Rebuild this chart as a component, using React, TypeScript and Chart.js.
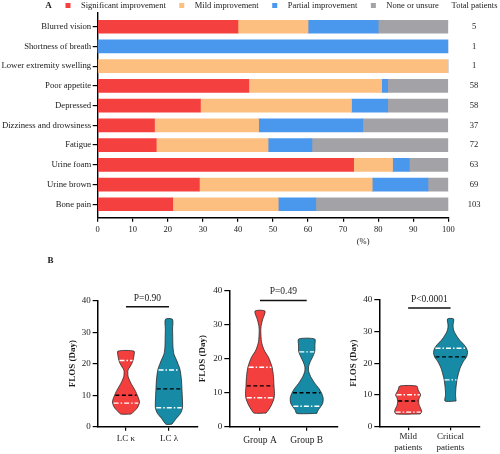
import React, { useEffect, useRef } from 'react';
import { Chart, registerables } from 'chart.js';

Chart.register(...registerables);

const FONT = "'Liberation Serif', 'Times New Roman', Times, serif";
Chart.defaults.font.family = FONT;
Chart.defaults.color = '#1a1a1a';

// ---------------- Panel A data ----------------
const symptoms = [
  'Blurred vision',
  'Shortness of breath',
  'Lower extremity swelling',
  'Poor appetite',
  'Depressed',
  'Dizziness and drowsiness',
  'Fatigue',
  'Urine foam',
  'Urine brown',
  'Bone pain',
];
const seriesNames = ['Significant improvement', 'Mild improvement', 'Partial improvement', 'None or unsure'];
const significantPct = [40, 0, 0, 43.1, 29.3, 16.2, 16.7, 73.0, 29.0, 21.4];
const mildPct = [20, 0, 100, 37.9, 43.1, 29.7, 31.9, 11.1, 49.3, 30.1];
const partialPct = [20, 100, 0, 1.7, 10.3, 29.7, 12.5, 4.8, 15.9, 10.7];
const nonePct = [20, 0, 0, 17.2, 17.2, 24.3, 38.9, 11.1, 5.8, 37.9];
const totalPatients = [5, 1, 1, 58, 58, 37, 72, 63, 69, 103];
const totalHeader = 'Total patients';
const xTitleA = '(%)';

// ---------------- Panel B data ----------------
const yTitleB = 'FLOS (Day)';
const lcLabels = ['LC κ', 'LC λ'];
const groupLabels = ['Group A', 'Group B'];
const severityLabels = [['Mild', 'patients'], ['Critical', 'patients']];

// density profiles: FLOS levels (days) and relative density (half-width)
const lcKappaLevels = [4, 4.8, 6.3, 7.9, 9.5, 11.6, 13.8, 15.9, 17.9, 19, 20.5, 22.5, 24];
const lcKappaDensity = [5, 8, 12, 13.5, 12, 9, 5, 2.2, 2, 4, 6.5, 8, 8];
const lcKappaStats = [7.5, 10, 21]; // Q1, median, Q3

const lcLambdaLevels = [0.8, 2.7, 4.2, 5.9, 8.5, 11.9, 14.8, 18.2, 21.2, 23, 25.4, 28, 31, 34.1];
const lcLambdaDensity = [3, 7.5, 11.5, 13.5, 13.5, 13, 12.5, 11, 7.5, 5, 4, 3.8, 3.6, 3.5];
const lcLambdaStats = [6, 12, 18];

const groupALevels = [4, 4.9, 6.4, 8.3, 9.8, 12, 14.7, 17.6, 20.4, 22.6, 25, 27.9, 29.4, 31.4, 34];
const groupADensity = [6, 8.5, 11.5, 14, 14.5, 14, 13.5, 12, 8.5, 4, 1.5, 0.8, 1, 2.5, 5];
const groupAStats = [8.5, 12, 17.5];

const groupBLevels = [3.9, 4.9, 5.9, 6.9, 8.3, 9.8, 11.3, 12.8, 14.7, 16.2, 17.6, 19.1, 20.6, 22.1, 24, 25.8];
const groupBDensity = [10, 11.5, 14, 16, 16.5, 15, 12, 8, 4, 2, 1.8, 3.5, 6, 8, 8.2, 8];
const groupBStats = [6, 10, 22];

const mildLevels = [3.9, 4.6, 5.7, 6.7, 7.8, 8.9, 9.9, 11.5, 12.75];
const mildDensity = [12, 13.5, 12.5, 11, 10.5, 11, 12.5, 10, 8.5];
const mildStats = [4.5, 8, 10];

const criticalLevels = [8, 10, 12.5, 14.9, 16.2, 18.4, 20.4, 22, 23.4, 24.7, 26, 27.3, 28.9, 30.5, 32, 34];
const criticalDensity = [5.5, 5, 5.5, 6.5, 7.5, 9.5, 12.5, 16, 17, 16, 13, 9, 5.5, 3, 2.5, 3];
const criticalStats = [14.7, 22, 24.7];

const pTexts = ['P=0.90', 'P=0.49', 'P<0.0001'];
const pTextLevels = [40.8, 39.7, 40.3];
const pBarLevels = [38.1, 37.1, 37.5];

// ---------------- colours ----------------
const COL_SIG = '#F4403F';
const COL_MILD = '#FDBF80';
const COL_PART = '#4A97EE';
const COL_NONE = '#A3A2A6';
const COL_VRED = '#F43F3F';
const COL_VTEAL = '#178BA6';
const TEXT = '#1a1a1a';

function densityAt(levels: number[], dens: number[], v: number) {
  if (v <= levels[0]) return dens[0];
  for (let i = 0; i < levels.length - 1; i++) {
    if (v <= levels[i + 1]) {
      const t = (v - levels[i]) / (levels[i + 1] - levels[i]);
      return dens[i] + t * (dens[i + 1] - dens[i]);
    }
  }
  return dens[dens.length - 1];
}

const Y_MIN_A = -0.71;
const Y_MAX_A = 9.66;

function panelAConfig(): any {
  const series = [significantPct, mildPct, partialPct, nonePct];
  const colors = [COL_SIG, COL_MILD, COL_PART, COL_NONE];
  const datasets = series.map((vals, s) => ({
    label: seriesNames[s],
    data: vals.map((v, i) => ({ x: v, y: i })),
    backgroundColor: colors[s],
    borderWidth: 0,
    barThickness: 13,
    stack: 'all',
  }));
  const overlay = {
    id: 'panelAOverlay',
    afterDraw(chart: any) {
      const { ctx } = chart;
      const xs = chart.scales.x;
      const ys = chart.scales.y;
      ctx.save();
      ctx.textBaseline = 'middle';
      ctx.fillStyle = TEXT;
      ctx.font = `bold 9px ${FONT}`;
      ctx.textAlign = 'center';
      ctx.fillText('A', 48.5, 5.5);
      ctx.font = `8.5px ${FONT}`;
      ctx.textAlign = 'left';
      let x = 65.5;
      chart.data.datasets.forEach((ds: any) => {
        ctx.fillStyle = ds.backgroundColor;
        ctx.fillRect(x, 3, 5, 5);
        ctx.fillStyle = TEXT;
        ctx.fillText(ds.label, x + 15.5, 5.5);
        x += 15.5 + ctx.measureText(ds.label).width + 13.5;
      });
      ctx.textAlign = 'center';
      ctx.fillText(totalHeader, 474.5, 5.5);
      totalPatients.forEach((t, i) => ctx.fillText(String(t), 474, ys.getPixelForValue(i)));
      ctx.fillText(xTitleA, xs.getPixelForValue(75.7), 242);
      ctx.restore();
    },
  };
  return {
    type: 'bar',
    data: { datasets },
    options: {
      indexAxis: 'y',
      animation: false,
      responsive: false,
      events: [],
      layout: { padding: { top: 12.7, left: 0, right: 51.7, bottom: 0 } },
      plugins: { legend: { display: false }, tooltip: { enabled: false } },
      scales: {
        x: {
          type: 'linear',
          stacked: true,
          min: 0,
          max: 100,
          offset: false,
          grid: { drawOnChartArea: false, offset: false, color: '#000', lineWidth: 1.2, tickLength: 4.5 },
          border: { color: '#000', width: 1.4 },
          ticks: { stepSize: 10, autoSkip: false, maxRotation: 0, padding: 3, font: { size: 8.5 }, color: TEXT },
          afterFit: (s: any) => {
            s.height = 34.7;
          },
        },
        y: {
          type: 'linear',
          stacked: true,
          reverse: true,
          offset: false,
          min: Y_MIN_A,
          max: Y_MAX_A,
          grid: { drawOnChartArea: false, offset: false, color: '#000', lineWidth: 1.2, tickLength: 5 },
          border: { color: '#000', width: 1.4 },
          ticks: {
            stepSize: 1,
            includeBounds: false,
            autoSkip: false,
            padding: 1.5,
            font: { size: 8.7 },
            color: TEXT,
            callback: (v: any) => symptoms[v] ?? '',
          },
          afterBuildTicks: (s: any) => {
            s.ticks = symptoms.map((_, i) => ({ value: i }));
            s.min = Y_MIN_A;
            s.max = Y_MAX_A;
          },
          afterFit: (s: any) => {
            s.width = 97.7;
          },
        },
      },
    },
    plugins: [overlay],
  };
}

interface ViolinSpec {
  levels: number[];
  dens: number[];
  stats: number[];
  color: string;
}

interface ViolinPanel {
  labels: any[];
  violins: ViolinSpec[];
  pText: string;
  pTextY: number;
  pBarY: number;
  canvasW: number;
  canvasH: number;
  area: { left: number; right: number; top: number; bottom: number };
  padLeft: number;
  titlePad: number;
  xMin: number;
  xMax: number;
  xLabelSize: number;
  xTickPad: number;
  drawB?: boolean;
}

function violinConfig(p: ViolinPanel): any {
  const spacingPx = (p.area.right - p.area.left) / (p.xMax - p.xMin);
  const k = 1 / spacingPx;
  const datasets: any[] = [];
  p.violins.forEach((vi, idx) => {
    const right = vi.levels.map((v, j) => ({ x: idx + vi.dens[j] * k, y: v }));
    const left = vi.levels.map((v, j) => ({ x: idx - vi.dens[j] * k, y: v })).reverse();
    datasets.push({
      data: [...right, ...left, right[0]],
      fill: 'shape',
      backgroundColor: vi.color,
      borderColor: '#2a2a2a',
      borderWidth: 0.8,
      pointRadius: 0,
      tension: 0.25,
      order: 3,
    });
    vi.stats.forEach((v, si) => {
      const w = densityAt(vi.levels, vi.dens, v) * k * 0.94;
      const isMed = si === 1;
      datasets.push({
        data: [
          { x: idx - w, y: v },
          { x: idx + w, y: v },
        ],
        fill: false,
        borderColor: isMed ? '#000' : '#fff',
        borderDash: isMed ? [4, 2.5] : [5, 2, 1.5, 2],
        borderWidth: 1.4,
        pointRadius: 0,
        tension: 0,
        order: 1,
      });
    });
  });
  datasets.push({
    data: [
      { x: 0, y: p.pBarY },
      { x: 1, y: p.pBarY },
    ],
    fill: false,
    borderColor: '#111',
    borderWidth: 1.5,
    pointRadius: 0,
    tension: 0,
    order: 0,
  });
  const overlay = {
    id: 'violinOverlay',
    afterDraw(chart: any) {
      const { ctx } = chart;
      const xs = chart.scales.x;
      const ys = chart.scales.y;
      ctx.save();
      ctx.fillStyle = TEXT;
      ctx.textAlign = 'center';
      ctx.textBaseline = 'middle';
      ctx.font = `9.5px ${FONT}`;
      ctx.fillText(p.pText, xs.getPixelForValue(0.5), ys.getPixelForValue(p.pTextY));
      if (p.drawB) {
        ctx.font = `bold 9px ${FONT}`;
        ctx.fillText('B', 50.5, 9);
      }
      ctx.restore();
    },
  };
  return {
    type: 'line',
    data: { datasets },
    options: {
      animation: false,
      responsive: false,
      events: [],
      layout: {
        padding: {
          left: p.padLeft,
          top: p.area.top,
          right: p.canvasW - p.area.right,
          bottom: 0,
        },
      },
      plugins: { legend: { display: false }, tooltip: { enabled: false } },
      scales: {
        x: {
          type: 'linear',
          min: p.xMin,
          max: p.xMax,
          offset: false,
          grid: { drawOnChartArea: false, offset: false, color: '#000', lineWidth: 1.2, tickLength: 4 },
          border: { color: '#000', width: 1.5 },
          ticks: {
            stepSize: 1,
            includeBounds: false,
            autoSkip: false,
            maxRotation: 0,
            padding: p.xTickPad,
            font: { size: p.xLabelSize },
            color: TEXT,
            callback: (v: any) => p.labels[v] ?? '',
          },
          afterBuildTicks: (s: any) => {
            s.ticks = p.labels.map((_: any, i: number) => ({ value: i }));
            s.min = p.xMin;
            s.max = p.xMax;
          },
          afterFit: (s: any) => {
            s.height = p.canvasH - p.area.bottom;
          },
        },
        y: {
          type: 'linear',
          min: 0,
          max: 40,
          grid: { drawOnChartArea: false, color: '#000', lineWidth: 1.2, tickLength: 5 },
          border: { color: '#000', width: 1.5 },
          ticks: { stepSize: 10, padding: 2, font: { size: 9 }, color: TEXT },
          title: {
            display: true,
            text: yTitleB,
            font: { size: 9, weight: 'bold' },
            color: TEXT,
            padding: { top: p.titlePad, bottom: 0 },
          },
          afterFit: (s: any) => {
            s.width = p.area.left - p.padLeft;
          },
        },
      },
    },
    plugins: [overlay],
  };
}

const B_TOP = 252;
const B_H = 202;

const panel1: ViolinPanel = {
  labels: lcLabels,
  violins: [
    { levels: lcKappaLevels, dens: lcKappaDensity, stats: lcKappaStats, color: COL_VRED },
    { levels: lcLambdaLevels, dens: lcLambdaDensity, stats: lcLambdaStats, color: COL_VTEAL },
  ],
  pText: pTexts[0],
  pTextY: pTextLevels[0],
  pBarY: pBarLevels[0],
  canvasW: 200,
  canvasH: B_H,
  area: { left: 97.7, right: 197.2, top: 300.7 - B_TOP, bottom: 426.7 - B_TOP },
  padLeft: 60,
  titlePad: 7.3,
  xMin: -0.657,
  xMax: 1.657,
  xLabelSize: 9,
  xTickPad: 3,
  drawB: true,
};

const panel2: ViolinPanel = {
  labels: groupLabels,
  violins: [
    { levels: groupALevels, dens: groupADensity, stats: groupAStats, color: COL_VRED },
    { levels: groupBLevels, dens: groupBDensity, stats: groupBStats, color: COL_VTEAL },
  ],
  pText: pTexts[1],
  pTextY: pTextLevels[1],
  pBarY: pBarLevels[1],
  canvasW: 150,
  canvasH: B_H,
  area: { left: 229.3 - 195, right: 337.4 - 195, top: 290.7 - B_TOP, bottom: 426.7 - B_TOP },
  padLeft: 0,
  titlePad: 2.6,
  xMin: -0.657,
  xMax: 1.657,
  xLabelSize: 9.5,
  xTickPad: 4,
};

const panel3: ViolinPanel = {
  labels: severityLabels,
  violins: [
    { levels: mildLevels, dens: mildDensity, stats: mildStats, color: COL_VRED },
    { levels: criticalLevels, dens: criticalDensity, stats: criticalStats, color: COL_VTEAL },
  ],
  pText: pTexts[2],
  pTextY: pTextLevels[2],
  pBarY: pBarLevels[2],
  canvasW: 160,
  canvasH: B_H,
  area: { left: 379.3 - 340, right: 479.4 - 340, top: 300 - B_TOP, bottom: 426.3 - B_TOP },
  padLeft: 0,
  titlePad: 8.6,
  xMin: -0.68,
  xMax: 1.68,
  xLabelSize: 9,
  xTickPad: 1,
};

export default function App() {
  const aRef = useRef<HTMLCanvasElement>(null);
  const b1Ref = useRef<HTMLCanvasElement>(null);
  const b2Ref = useRef<HTMLCanvasElement>(null);
  const b3Ref = useRef<HTMLCanvasElement>(null);

  useEffect(() => {
    const charts: Chart[] = [];
    if (aRef.current) charts.push(new Chart(aRef.current, panelAConfig()));
    if (b1Ref.current) charts.push(new Chart(b1Ref.current, violinConfig(panel1)));
    if (b2Ref.current) charts.push(new Chart(b2Ref.current, violinConfig(panel2)));
    if (b3Ref.current) charts.push(new Chart(b3Ref.current, violinConfig(panel3)));
    return () => charts.forEach((c) => c.destroy());
  }, []);

  const cv = (left: number, top: number, w: number, h: number): React.CSSProperties => ({
    position: 'absolute',
    left,
    top,
    width: w,
    height: h,
  });

  return (
    <div
      style={{
        position: 'absolute',
        left: 0,
        top: 0,
        width: 500,
        height: 454,
        background: '#fff',
        overflow: 'hidden',
      }}
    >
      <canvas ref={aRef} width={500} height={252} style={cv(0, 0, 500, 252)} />
      <canvas ref={b1Ref} width={200} height={B_H} style={cv(0, B_TOP, 200, B_H)} />
      <canvas ref={b2Ref} width={150} height={B_H} style={cv(195, B_TOP, 150, B_H)} />
      <canvas ref={b3Ref} width={160} height={B_H} style={cv(340, B_TOP, 160, B_H)} />
    </div>
  );
}
